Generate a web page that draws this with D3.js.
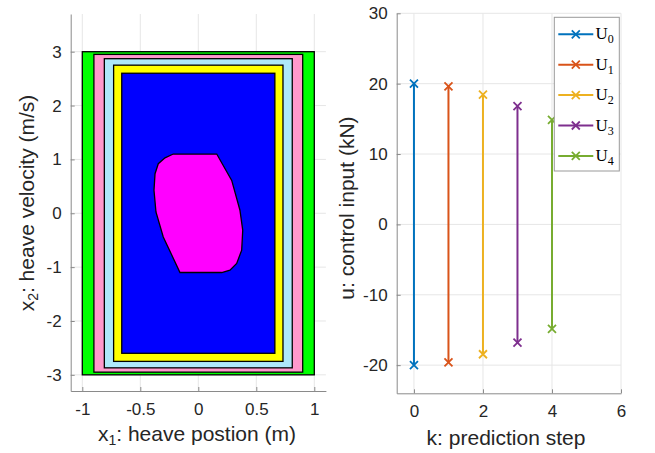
<!DOCTYPE html>
<html><head><meta charset="utf-8">
<script src="https://cdn.jsdelivr.net/npm/d3@7"></script>
<style>body{margin:0;background:#fff}svg{display:block}</style>
</head><body><svg id="c" width="655" height="453"></svg>
<script>
// ---- data ----
const leftXTicks = [-1, -0.5, 0, 0.5, 1];
const leftYTicks = [-3, -2, -1, 0, 1, 2, 3];
const rightXTicks = [0, 2, 4, 6];
const rightYTicks = [-20, -10, 0, 10, 20, 30];
// nested constraint sets: half-width (x1), half-height (x2), fill colour
const setNames = ["X", "C1", "C2", "C3", "C4"];
const setHalfX = [1.0, 0.9, 0.81, 0.73, 0.66];
const setHalfY = [3.0, 2.95, 2.87, 2.75, 2.6];
const setColors = ["#00ff00", "#ff99cc", "#aee8fa", "#ffff00", "#0000ff"];
// terminal set polygon
const polyX = [-0.216, 0.159, 0.288, 0.359, 0.383, 0.374, 0.331, 0.273, 0.202, -0.158, -0.302, -0.365, -0.382, -0.373, -0.345, -0.287];
const polyY = [1.1, 1.1, 0.61, 0.056, -0.315, -0.685, -0.93, -1.056, -1.1, -1.1, -0.44, 0.024, 0.426, 0.735, 0.92, 1.03];
// control input bounds per prediction step
const steps = [0, 1, 2, 3, 4];
const uMax = [20, 19.6, 18.45, 16.8, 14.85];
const uMin = [-20, -19.6, -18.45, -16.8, -14.85];
const seriesColors = ["#0072BD", "#D95319", "#EDB120", "#7E2F8E", "#77AC30"];

const svg = d3.select("#c");
const tickFont = "Liberation Sans, Arial, sans-serif";
const axisCol = "#8a8a8a", gridCol = "#e6e6e6", textCol = "#262626";
const fmt = d => String(d);

function drawGrid(g, x, y, xt, yt) {
  const [x0, x1] = x.range(), [y0, y1] = y.range();
  g.append("g").selectAll("line").data(xt).join("line")
    .attr("x1", d => x(d)).attr("x2", d => x(d)).attr("y1", y0).attr("y2", y1)
    .attr("stroke", gridCol).attr("stroke-width", 1);
  g.append("g").selectAll("line").data(yt).join("line")
    .attr("y1", d => y(d)).attr("y2", d => y(d)).attr("x1", x0).attr("x2", x1)
    .attr("stroke", gridCol).attr("stroke-width", 1);
}
function drawAxisLines(g, x, y, xt, yt) {
  const [x0, x1] = x.range(), [y0, y1] = y.range();
  const ax = g.append("g").attr("transform", `translate(0,${y0})`)
    .call(d3.axisBottom(x).tickValues(xt).tickFormat(fmt).tickSizeInner(-4).tickSizeOuter(0).tickPadding(12));
  const ay = g.append("g").attr("transform", `translate(${x0},0)`)
    .call(d3.axisLeft(y).tickValues(yt).tickFormat(fmt).tickSizeInner(-4).tickSizeOuter(0).tickPadding(9));
  [ax, ay].forEach(a => {
    a.select(".domain").attr("stroke", axisCol).attr("stroke-width", 1);
    a.selectAll(".tick line").attr("stroke", axisCol);
    a.selectAll(".tick text").attr("fill", textCol).style("font-family", tickFont).style("font-size", "17px");
  });
}

// ---- left plot ----
const xL = d3.scaleLinear().domain([-1.1, 1.1]).range([70.7, 325.9]);
const yL = d3.scaleLinear().domain([-3.3, 3.7]).range([391, 14]);
const gL = svg.append("g");
drawGrid(gL, xL, yL, leftXTicks, leftYTicks);
gL.append("g").selectAll("rect").data(setNames).join("rect")
  .attr("x", (d, i) => xL(-setHalfX[i])).attr("y", (d, i) => yL(setHalfY[i]))
  .attr("width", (d, i) => xL(setHalfX[i]) - xL(-setHalfX[i]))
  .attr("height", (d, i) => yL(-setHalfY[i]) - yL(setHalfY[i]))
  .attr("fill", (d, i) => setColors[i]).attr("stroke", "#000").attr("stroke-width", 1.3);
const polyPts = polyX.map((v, i) => [xL(v), yL(polyY[i])]);
gL.append("path").attr("d", d3.line().curve(d3.curveLinearClosed)(polyPts))
  .attr("fill", "#ff00ff").attr("stroke", "#000").attr("stroke-width", 1.3);
drawAxisLines(gL, xL, yL, leftXTicks, leftYTicks);

const lblFont = "Liberation Sans, Arial, sans-serif";
const xlab = gL.append("text").attr("x", 197).attr("y", 441).attr("text-anchor", "middle")
  .attr("fill", textCol).style("font-family", lblFont).style("font-size", "21px");
xlab.append("tspan").text("x");
xlab.append("tspan").attr("baseline-shift", "-30%").style("font-size", "14px").text("1");
xlab.append("tspan").text(": heave postion (m)");
const ylab = gL.append("text").attr("transform", "translate(34,203) rotate(-90)").attr("text-anchor", "middle")
  .attr("fill", textCol).style("font-family", lblFont).style("font-size", "21px");
ylab.append("tspan").text("x");
ylab.append("tspan").attr("baseline-shift", "-30%").style("font-size", "14px").text("2");
ylab.append("tspan").text(": heave velocity (m/s)");

// ---- right plot ----
const xR = d3.scaleLinear().domain([-0.5, 6]).range([396.7, 621]);
const yR = d3.scaleLinear().domain([-24, 30]).range([393.3, 13.3]);
const gR = svg.append("g");
drawGrid(gR, xR, yR, rightXTicks, rightYTicks);
drawAxisLines(gR, xR, yR, rightXTicks, rightYTicks);

function xMark(g, cx, cy, col, s) {
  g.append("path").attr("d", `M${cx - s},${cy - s}L${cx + s},${cy + s}M${cx - s},${cy + s}L${cx + s},${cy - s}`)
    .attr("stroke", col).attr("stroke-width", 1.8).attr("fill", "none");
}
const stems = gR.append("g");
steps.forEach((k, i) => {
  stems.append("line").attr("x1", xR(k)).attr("x2", xR(k)).attr("y1", yR(uMax[i])).attr("y2", yR(uMin[i]))
    .attr("stroke", seriesColors[i]).attr("stroke-width", 2);
  xMark(stems, xR(k), yR(uMax[i]), seriesColors[i], 4);
  xMark(stems, xR(k), yR(uMin[i]), seriesColors[i], 4);
});

gR.append("text").attr("transform", "translate(354,208) rotate(-90)").attr("text-anchor", "middle")
  .attr("fill", textCol).style("font-family", lblFont).style("font-size", "21px").text("u: control input (kN)");
gR.append("text").attr("x", 506).attr("y", 445).attr("text-anchor", "middle")
  .attr("fill", textCol).style("font-family", lblFont).style("font-size", "21px").text("k: prediction step");

// legend
const lg = svg.append("g");
lg.append("rect").attr("x", 554.3).attr("y", 17.3).attr("width", 65).attr("height", 153.7)
  .attr("fill", "#fff").attr("stroke", "#999").attr("stroke-width", 1);
steps.forEach((k, i) => {
  const ly = 34.3 + i * 30.4;
  lg.append("line").attr("x1", 558.3).attr("x2", 593.3).attr("y1", ly).attr("y2", ly)
    .attr("stroke", seriesColors[i]).attr("stroke-width", 2);
  xMark(lg, 575.8, ly, seriesColors[i], 4);
  const t = lg.append("text").attr("x", 595.5).attr("y", ly + 5).attr("fill", "#000")
    .style("font-family", "Liberation Serif, Times New Roman, serif").style("font-size", "17px");
  t.append("tspan").text("U");
  t.append("tspan").attr("baseline-shift", "-35%").style("font-size", "12px").text(String(k));
});
</script></body></html>
